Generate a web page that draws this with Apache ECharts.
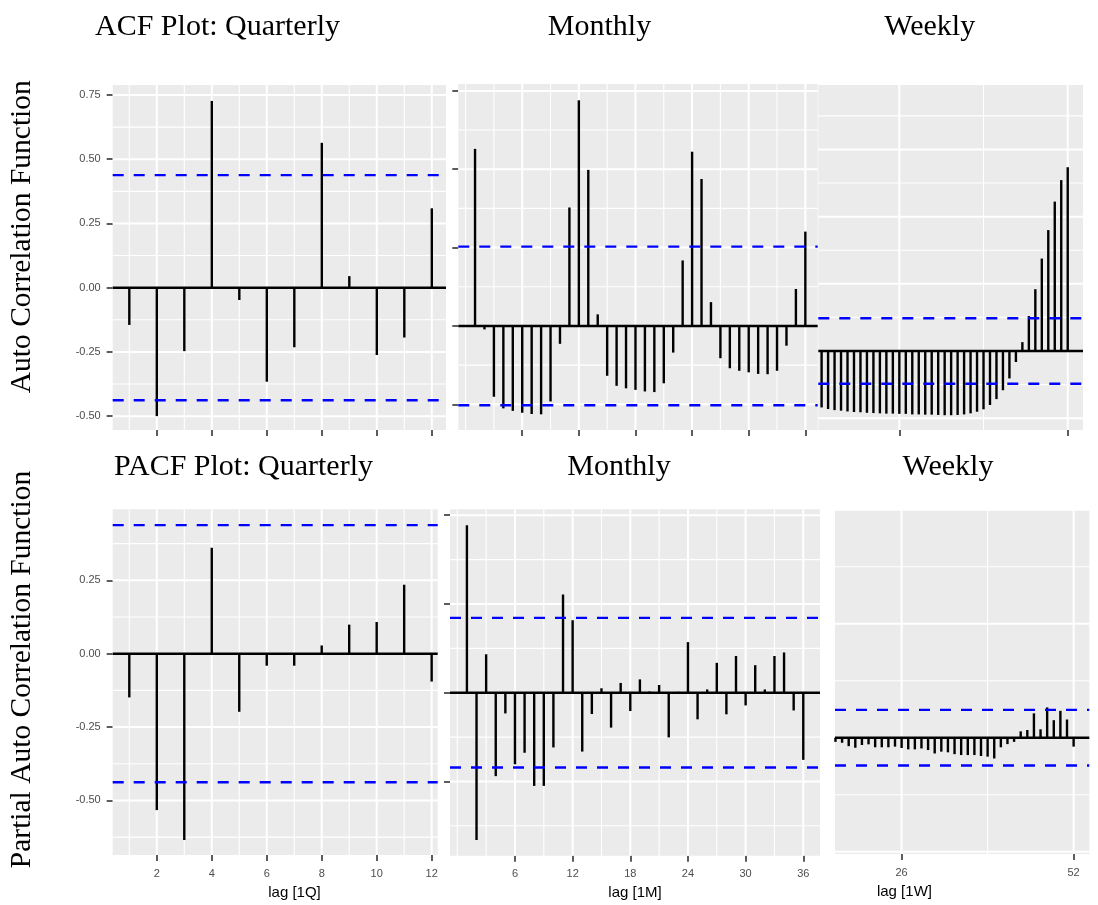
<!DOCTYPE html>
<html>
<head>
<meta charset="utf-8">
<title>ACF and PACF: Quarterly, Monthly, Weekly</title>
<script src="https://cdn.jsdelivr.net/npm/echarts@6/dist/echarts.min.js"></script>
<style>
  html, body { margin: 0; padding: 0; background: #ffffff; }
  #chart { width: 1098px; height: 905px; }
</style>
</head>
<body>
<div id="chart"></div>
<script>
// ---- correlation estimates, one value per lag ----
const acfQuarterly = [-0.145, -0.500, -0.247, 0.727, -0.048, -0.366, -0.232, 0.564, 0.045, -0.262, -0.194, 0.309];
const acfMonthly = [
  0.565, -0.011, -0.226, -0.263, -0.271, -0.277, -0.281, -0.282, -0.241, -0.057,
  0.378, 0.720, 0.498, 0.037, -0.159, -0.191, -0.199, -0.204, -0.209, -0.211,
  -0.183, -0.085, 0.209, 0.556, 0.469, 0.076, -0.103, -0.135, -0.143, -0.148,
  -0.153, -0.154, -0.143, -0.063, 0.118, 0.301
];
const acfWeeklyFirstLag = 14;
const acfWeekly = [
  -0.210, -0.216, -0.220, -0.222, -0.225, -0.227, -0.228, -0.230, -0.231, -0.232,
  -0.233, -0.233, -0.234, -0.234, -0.236, -0.236, -0.237, -0.237, -0.238, -0.239,
  -0.239, -0.238, -0.236, -0.232, -0.226, -0.217, -0.201, -0.179, -0.146, -0.102,
  -0.041, 0.033, 0.130, 0.230, 0.344, 0.450, 0.556, 0.636, 0.684
];
const pacfQuarterly = [-0.149, -0.533, -0.635, 0.361, -0.198, -0.041, -0.041, 0.028, 0.099, 0.108, 0.235, -0.095];
const pacfMonthly = [
  0.566, -0.498, 0.130, -0.282, -0.070, -0.242, -0.203, -0.315, -0.315, -0.185,
  0.332, 0.245, -0.199, -0.072, 0.015, -0.118, 0.033, -0.062, 0.045, 0.004,
  0.026, -0.151, 0.003, 0.171, -0.090, 0.011, 0.101, -0.073, 0.124, -0.043,
  0.093, 0.011, 0.124, 0.136, -0.060, -0.227
];
const pacfWeeklyFirstLag = 16;
const pacfWeekly = [
  -0.018, -0.022, -0.037, -0.044, -0.032, -0.029, -0.042, -0.042, -0.042, -0.039,
  -0.045, -0.051, -0.051, -0.047, -0.054, -0.069, -0.061, -0.064, -0.072, -0.076,
  -0.076, -0.076, -0.080, -0.083, -0.091, -0.042, -0.028, -0.018, 0.028, 0.034,
  0.107, 0.037, 0.133, 0.077, 0.118, 0.080, -0.039
];

// ---- significance bounds (±1.96/sqrt(n)) ----
const boundQuarterly = 0.438;
const boundMonthly = 0.253;
const boundWeekly = 0.122;

// ---- axis breaks / tick labels ----
const lagBreaksQuarterly = [2, 4, 6, 8, 10, 12];
const lagBreaksMonthly = [6, 12, 18, 24, 30, 36];
const lagBreaksWeekly = [26, 52];
const acfBreaksQuarterly = [-0.5, -0.25, 0, 0.25, 0.5, 0.75];
const acfBreaksMonthly = [-0.25, 0, 0.25, 0.5, 0.75];
const acfBreaksWeekly = [-0.25, 0, 0.25, 0.5, 0.75];
const pacfBreaksQuarterly = [-0.5, -0.25, 0, 0.25];
const pacfBreaksMonthly = [-0.3, 0, 0.3, 0.6];
const pacfBreaksWeekly = [-0.5, 0, 0.5, 1.0];

const titlesTop = ['ACF Plot: Quarterly', 'Monthly', 'Weekly'];
const titlesBottom = ['PACF Plot: Quarterly', 'Monthly', 'Weekly'];
const yTitleTop = 'Auto Correlation Function';
const yTitleBottom = 'Partial Auto Correlation Function';
const lagTitles = ['lag [1Q]', 'lag [1M]', 'lag [1W]'];

const SANS = 'Liberation Sans, Arial, Helvetica, sans-serif';
const SERIF = 'Liberation Serif, Times New Roman, serif';

function lagPairs(values, firstLag) {
  return values.map((v, k) => [firstLag + k, v]);
}

// ---- panel layout ----
const panels = [
  { data: lagPairs(acfQuarterly, 1), bound: boundQuarterly,
    xBreaks: lagBreaksQuarterly, yBreaks: acfBreaksQuarterly,
    box: { left: 112.7, top: 85, width: 333.3, height: 345 },
    xRange: [0.396, 12.516], yRange: [-0.554, 0.789],
    xTicks: true, xLabels: false, yTicks: true, yLabels: true, xName: '', nameShift: 0 },
  { data: lagPairs(acfMonthly, 1), bound: boundMonthly,
    xBreaks: lagBreaksMonthly, yBreaks: acfBreaksMonthly,
    box: { left: 458.3, top: 84, width: 359.4, height: 346 },
    xRange: [-0.774, 37.31], yRange: [-0.332, 0.772],
    xTicks: true, xLabels: false, yTicks: true, yLabels: false, xName: '', nameShift: 0 },
  { data: lagPairs(acfWeekly, acfWeeklyFirstLag), bound: boundWeekly,
    xBreaks: lagBreaksWeekly, yBreaks: acfBreaksWeekly,
    box: { left: 818.3, top: 85, width: 264.7, height: 345 },
    xRange: [13.49, 54.36], yRange: [-0.294, 0.990],
    xTicks: true, xLabels: false, yTicks: false, yLabels: false, xName: '', nameShift: 0 },
  { data: lagPairs(pacfQuarterly, 1), bound: boundQuarterly,
    xBreaks: lagBreaksQuarterly, yBreaks: pacfBreaksQuarterly,
    box: { left: 112.7, top: 509.3, width: 325, height: 345.7 },
    xRange: [0.396, 12.22], yRange: [-0.686, 0.492],
    xTicks: true, xLabels: true, yTicks: true, yLabels: true, xName: lagTitles[0], nameShift: 19.3 },
  { data: lagPairs(pacfMonthly, 1), bound: boundMonthly,
    xBreaks: lagBreaksMonthly, yBreaks: pacfBreaksMonthly,
    box: { left: 450, top: 509.3, width: 370, height: 346.4 },
    xRange: [-0.76, 37.74], yRange: [-0.551, 0.620],
    xTicks: true, xLabels: true, yTicks: true, yLabels: false, xName: lagTitles[1], nameShift: 0 },
  { data: lagPairs(pacfWeekly, pacfWeeklyFirstLag), bound: boundWeekly,
    xBreaks: lagBreaksWeekly, yBreaks: pacfBreaksWeekly,
    box: { left: 835, top: 509.3, width: 254.3, height: 344.7 },
    xRange: [15.93, 54.37], yRange: [-0.510, 1.002],
    xTicks: true, xLabels: true, yTicks: false, yLabels: false, xName: lagTitles[2], nameShift: -57.7 }
];

// minor grid positions halfway between breaks, plus the breaks just beyond each end
function minorBreaks(major, range) {
  const step = major[1] - major[0];
  const ext = [major[0] - step].concat(major, [major[major.length - 1] + step]);
  const out = [];
  for (let k = 0; k < ext.length - 1; k++) {
    out.push(ext[k], (ext[k] + ext[k + 1]) / 2);
  }
  out.push(ext[ext.length - 1]);
  return out.filter(v => !major.some(m => Math.abs(m - v) < 1e-9) && v > range[0] && v < range[1]);
}
function inside(list, range) {
  return list.filter(v => v >= range[0] && v <= range[1]);
}

const STROKE = 2.4;
const grids = [], xAxes = [], yAxes = [], series = [];

panels.forEach((p, i) => {
  grids.push({
    left: p.box.left, top: p.box.top, width: p.box.width, height: p.box.height,
    show: true, backgroundColor: '#EBEBEB', borderWidth: 0
  });

  const pad = p.nameShift >= 0 ? [0, 0, 0, 2 * p.nameShift] : [0, -2 * p.nameShift, 0, 0];
  xAxes.push({
    type: 'value', gridIndex: i, min: p.xRange[0], max: p.xRange[1], position: 'bottom',
    axisLine: { show: false, onZero: false },
    splitLine: { show: false },
    axisTick: { show: p.xTicks, customValues: p.xBreaks, length: 6, lineStyle: { color: '#333333', width: 1.6 } },
    axisLabel: { show: p.xLabels, customValues: p.xBreaks, margin: 13, color: '#4D4D4D',
      fontSize: 11, fontFamily: SANS, formatter: v => String(Math.round(v)) },
    name: p.xName, nameLocation: 'middle', nameGap: 30,
    nameTextStyle: { fontFamily: SANS, fontSize: 15, color: '#000000', padding: pad }
  });
  yAxes.push({
    type: 'value', gridIndex: i, min: p.yRange[0], max: p.yRange[1], position: 'left',
    axisLine: { show: false, onZero: false },
    splitLine: { show: false },
    axisTick: { show: p.yTicks, customValues: p.yBreaks, length: 6, lineStyle: { color: '#333333', width: 1.6 } },
    axisLabel: { show: p.yLabels, customValues: p.yBreaks, margin: 12, color: '#4D4D4D',
      fontSize: 11, fontFamily: SANS, formatter: v => v.toFixed(2) }
  });

  const xMajor = inside(p.xBreaks, p.xRange), xMinor = minorBreaks(p.xBreaks, p.xRange);
  const yMajor = inside(p.yBreaks, p.yRange), yMinor = minorBreaks(p.yBreaks, p.yRange);

  // white panel grid
  series.push({
    type: 'custom', xAxisIndex: i, yAxisIndex: i, z: 1, silent: true, animation: false,
    data: [[p.xRange[0], 0]],
    renderItem: function (params, api) {
      const cs = params.coordSys;
      const kids = [];
      const h = (v, w) => {
        const y = api.coord([p.xRange[0], v])[1];
        kids.push({ type: 'line', shape: { x1: cs.x, y1: y, x2: cs.x + cs.width, y2: y },
          style: { stroke: '#FFFFFF', lineWidth: w } });
      };
      const vt = (v, w) => {
        const x = api.coord([v, p.yRange[0]])[0];
        kids.push({ type: 'line', shape: { x1: x, y1: cs.y, x2: x, y2: cs.y + cs.height },
          style: { stroke: '#FFFFFF', lineWidth: w } });
      };
      yMinor.forEach(v => h(v, 1.1));
      xMinor.forEach(v => vt(v, 1.1));
      yMajor.forEach(v => h(v, 2));
      xMajor.forEach(v => vt(v, 2));
      return { type: 'group', children: kids };
    }
  });

  // correlation spikes from zero
  series.push({
    type: 'custom', xAxisIndex: i, yAxisIndex: i, z: 2, silent: true, animation: false,
    data: p.data,
    renderItem: function (params, api) {
      const lag = api.value(0), v = api.value(1);
      const a = api.coord([lag, 0]), b = api.coord([lag, v]);
      return { type: 'line', shape: { x1: a[0], y1: a[1], x2: b[0], y2: b[1] },
        style: { stroke: '#000000', lineWidth: STROKE } };
    }
  });

  // zero line and dashed significance bounds
  series.push({
    type: 'custom', xAxisIndex: i, yAxisIndex: i, z: 3, silent: true, animation: false,
    data: [[p.xRange[0], 0]],
    renderItem: function (params, api) {
      const cs = params.coordSys;
      const yAt = v => api.coord([p.xRange[0], v])[1];
      const kids = [{ type: 'line', shape: { x1: cs.x, y1: yAt(0), x2: cs.x + cs.width, y2: yAt(0) },
        style: { stroke: '#000000', lineWidth: STROKE } }];
      [p.bound, -p.bound].forEach(v => {
        kids.push({ type: 'line', shape: { x1: cs.x, y1: yAt(v), x2: cs.x + cs.width, y2: yAt(v) },
          style: { stroke: '#0000FF', lineWidth: STROKE, lineDash: [11, 10] } });
      });
      return { type: 'group', children: kids };
    }
  });
});

// headings and row titles
const titleCentersTop = [217.5, 599.5, 929.7];
const titleCentersBottom = [243.5, 619, 948];
const graphics = [];
titlesTop.forEach((t, k) => graphics.push({
  type: 'text', x: titleCentersTop[k], y: 27.5,
  style: { text: t, fontFamily: SERIF, fontSize: 30, fill: '#000000', align: 'center', verticalAlign: 'middle' }
}));
titlesBottom.forEach((t, k) => graphics.push({
  type: 'text', x: titleCentersBottom[k], y: 467.5,
  style: { text: t, fontFamily: SERIF, fontSize: 30, fill: '#000000', align: 'center', verticalAlign: 'middle' }
}));
graphics.push({
  type: 'text', x: 22, y: 236.7, rotation: Math.PI / 2,
  style: { text: yTitleTop, fontFamily: SERIF, fontSize: 29.5, fill: '#000000', align: 'center', verticalAlign: 'middle' }
});
graphics.push({
  type: 'text', x: 22, y: 669.5, rotation: Math.PI / 2,
  style: { text: yTitleBottom, fontFamily: SERIF, fontSize: 29.5, fill: '#000000', align: 'center', verticalAlign: 'middle' }
});

const chart = echarts.init(document.getElementById('chart'), null, { renderer: 'canvas' });
chart.setOption({
  backgroundColor: '#FFFFFF',
  animation: false,
  grid: grids,
  xAxis: xAxes,
  yAxis: yAxes,
  series: series,
  graphic: graphics
});
</script>
</body>
</html>
